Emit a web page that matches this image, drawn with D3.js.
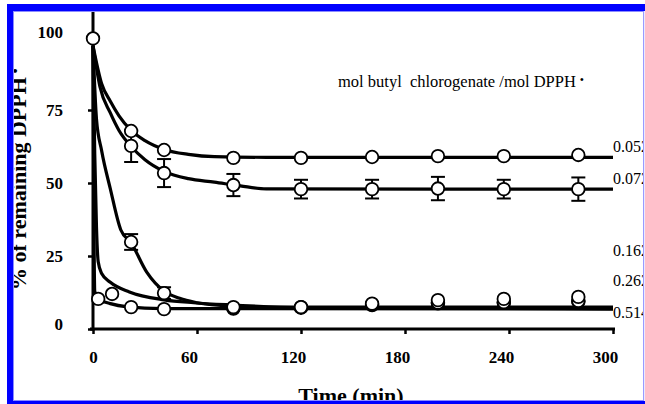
<!DOCTYPE html>
<html>
<head>
<meta charset="utf-8">
<script src="https://cdn.jsdelivr.net/npm/d3@7"></script>
<style>
  body { margin: 0; background: #fff; }
  svg { display: block; }
  text { font-family: "Liberation Serif", "Times New Roman", serif; fill: #000; }
</style>
</head>
<body>
<div id="chart"></div>
<script>
/* Data */

var ratios = ["0.052", "0.072", "0.162", "0.262", "0.514"]; // mol butyl chlorogenate / mol DPPH
var xTicks = [0, 60, 120, 180, 240, 300];
var yTicks = [0, 25, 50, 75, 100];

// measured points [time (min), % remaining]
var obs052 = [[0, 99.5], [22, 67.8], [41, 61.3], [81, 58.6], [120, 58.6], [161, 58.9], [199, 59.2], [237, 59.2], [280, 59.6]];
var obs072 = [[22, 62.7], [41, 53.4], [81, 49.3], [120, 47.9], [161, 47.9], [199, 48.1], [237, 47.9], [280, 47.9]];
var err072 = [5.5, 4.8, 3.8, 3.2, 3.2, 4.0, 3.2, 4.0];
var obs162 = [[22, 29.8], [41, 12.3], [81, 7.5], [120, 7.5], [161, 8.7], [199, 9.9], [237, 10.3], [280, 11.0]];
var err162 = [2.7, 2.0, 0, 0, 0, 0, 0, 0];
var obs262 = [[11, 12.0], [81, 7.2], [120, 7.5], [161, 8.4], [199, 9.0], [237, 9.2], [280, 9.6]];
var obs514 = [[3, 10.3], [22, 7.5], [41, 6.8], [81, 7.0], [120, 7.3], [161, 8.2], [199, 8.8], [237, 9.0], [280, 9.4]];

// fitted curves
var fit052 = [[0, 97], [5, 84], [10, 78], [15, 73], [22, 68], [30, 64.5], [41, 61.5], [55, 59.8], [70, 59], [100, 58.8], [300, 58.8]];
var fit072 = [[0, 97], [4, 83], [10, 74], [15, 68], [22, 62.5], [30, 58], [41, 54], [55, 51.5], [70, 50.3], [85, 49], [100, 48], [300, 47.9]];
var fit162 = [[0, 97], [2, 72], [5, 61], [10, 48], [16, 34], [22, 29.5], [31, 19.5], [41, 13], [50, 10.5], [60, 9], [80, 7.8], [100, 7.5], [300, 7.5]];
var fit262 = [[0, 97], [1, 60], [2, 35], [3, 23], [5, 19], [10, 16], [21, 12.7], [41, 10], [58, 9], [81, 8.2], [120, 7.3], [300, 7]];
var fit514 = [[0, 97], [0.5, 40], [1, 13], [3, 10.3], [10, 8.7], [20, 7.6], [40, 7], [300, 6.8]];

var labelAt = [62.5, 51.5, 27, 16.8, 5.6]; // % level of each end label

/* Layout */

var width = 645, height = 404;

var svg = d3.select("#chart").append("svg")
	.attr("width", width)
	.attr("height", height);

var x = d3.scaleLinear().domain([0, 300]).range([93, 613]);
var y = d3.scaleLinear().domain([0, 100]).range([329, 37]);

svg.append("clipPath").attr("id", "frame")
	.append("rect").attr("x", 12).attr("y", 10).attr("width", 631).attr("height", 391);

var g = svg.append("g").attr("clip-path", "url(#frame)");

/* Axes */

var yAxis = d3.axisLeft(y).tickValues(yTicks).tickSize(5).tickPadding(25).tickSizeOuter(0);
var gy = g.append("g").attr("transform", "translate(93,0)").call(yAxis);
gy.select(".domain").remove();
gy.selectAll(".tick line").attr("stroke", "#000").attr("stroke-width", 2.5);
gy.selectAll(".tick text").attr("font-size", 17).attr("font-weight", "bold")
	.attr("dy", function(d) { return (d === 0 || d === 100) ? "0.02em" : "0.32em"; });

var xAxis = d3.axisBottom(x).tickValues(xTicks).tickSize(5).tickPadding(17).tickSizeOuter(0);
var gx = g.append("g").attr("transform", "translate(0,329)").call(xAxis);
gx.select(".domain").remove();
gx.selectAll(".tick line").attr("stroke", "#000").attr("stroke-width", 2.5);
gx.selectAll(".tick text").attr("font-size", 17).attr("font-weight", "bold")
	.attr("dx", function(d) { return d === 0 ? 0 : -8; });

g.append("line").attr("x1", x(0)).attr("x2", x(0)).attr("y1", 10).attr("y2", y(0) + 1.5)
	.attr("stroke", "#000").attr("stroke-width", 3);
g.append("line").attr("x1", x(0) - 3).attr("x2", x(300) + 2).attr("y1", y(0)).attr("y2", y(0))
	.attr("stroke", "#000").attr("stroke-width", 3);

/* Curves */

var line = d3.line()
	.x(function(d) { return x(d[0]); })
	.y(function(d) { return y(d[1]); })
	.curve(d3.curveMonotoneX);

var fits = [fit052, fit072, fit162, fit262, fit514];
g.selectAll("path.fit").data(fits).enter().append("path")
	.attr("class", "fit")
	.attr("d", line)
	.attr("fill", "none")
	.attr("stroke", "#000")
	.attr("stroke-width", 3.2);

/* Error bars */

function errorBars(obs, err) {
	var rows = obs.map(function(p, i) { return { t: p[0], v: p[1], e: err[i] }; })
		.filter(function(d) { return d.e > 0; });
	var eb = g.append("g").attr("stroke", "#000").attr("stroke-width", 2);
	rows.forEach(function(d) {
		eb.append("line").attr("x1", x(d.t)).attr("x2", x(d.t)).attr("y1", y(d.v - d.e)).attr("y2", y(d.v + d.e));
		eb.append("line").attr("x1", x(d.t) - 7).attr("x2", x(d.t) + 7).attr("y1", y(d.v + d.e)).attr("y2", y(d.v + d.e));
		eb.append("line").attr("x1", x(d.t) - 7).attr("x2", x(d.t) + 7).attr("y1", y(d.v - d.e)).attr("y2", y(d.v - d.e));
	});
}
errorBars(obs072, err072);
errorBars(obs162, err162);

/* Points */

var allObs = [obs514, obs262, obs162, obs072, obs052];
allObs.forEach(function(obs) {
	g.append("g").selectAll("circle").data(obs).enter().append("circle")
		.attr("cx", function(d) { return x(d[0]); })
		.attr("cy", function(d) { return y(d[1]); })
		.attr("r", 6.3)
		.attr("fill", "#fff")
		.attr("stroke", "#000")
		.attr("stroke-width", 1.8);
});

/* Labels */

g.selectAll("text.ratio").data(ratios).enter().append("text")
	.attr("class", "ratio")
	.attr("x", 613)
	.attr("y", function(d, i) { return y(labelAt[i]); })
	.attr("dy", "0.35em")
	.attr("font-size", 16)
	.text(function(d) { return d; });

var legend = g.append("text").attr("x", 338).attr("y", 87).attr("font-size", 16.5);
legend.append("tspan").text("mol butyl\u00a0 chlorogenate /mol DPPH");
legend.append("tspan").attr("dx", 4).attr("dy", -3).attr("font-size", 12).text("\u2022");

var ytitle = g.append("text")
	.attr("transform", "translate(26,290) rotate(-90)")
	.attr("font-size", 22).attr("font-weight", "bold");
ytitle.append("tspan").text("% of remaining DPPH");
ytitle.append("tspan").attr("dx", 4).attr("dy", -6).attr("font-size", 14).text("\u2022");

g.append("text").attr("x", 351).attr("y", 403)
	.attr("text-anchor", "middle")
	.attr("font-size", 22).attr("font-weight", "bold")
	.text("Time (min)");

/* Frame */

svg.append("rect").attr("x", 7).attr("y", 4).attr("width", 638).attr("height", 7).attr("fill", "#0000ff");
svg.append("rect").attr("x", 7).attr("y", 4).attr("width", 6).attr("height", 400).attr("fill", "#0000ff");
svg.append("rect").attr("x", 13).attr("y", 11).attr("width", 631).attr("height", 1).attr("fill", "#8c8cff");
svg.append("rect").attr("x", 13).attr("y", 11).attr("width", 1).attr("height", 390).attr("fill", "#8c8cff");
svg.append("rect").attr("x", 643).attr("y", 11).attr("width", 1.2).attr("height", 390).attr("fill", "#9a9aff");
svg.append("rect").attr("x", 13).attr("y", 400).attr("width", 631).attr("height", 1).attr("fill", "#8c8cff");
svg.append("rect").attr("x", 7).attr("y", 401).attr("width", 638).attr("height", 3).attr("fill", "#0000ff");
</script>
</body>
</html>
